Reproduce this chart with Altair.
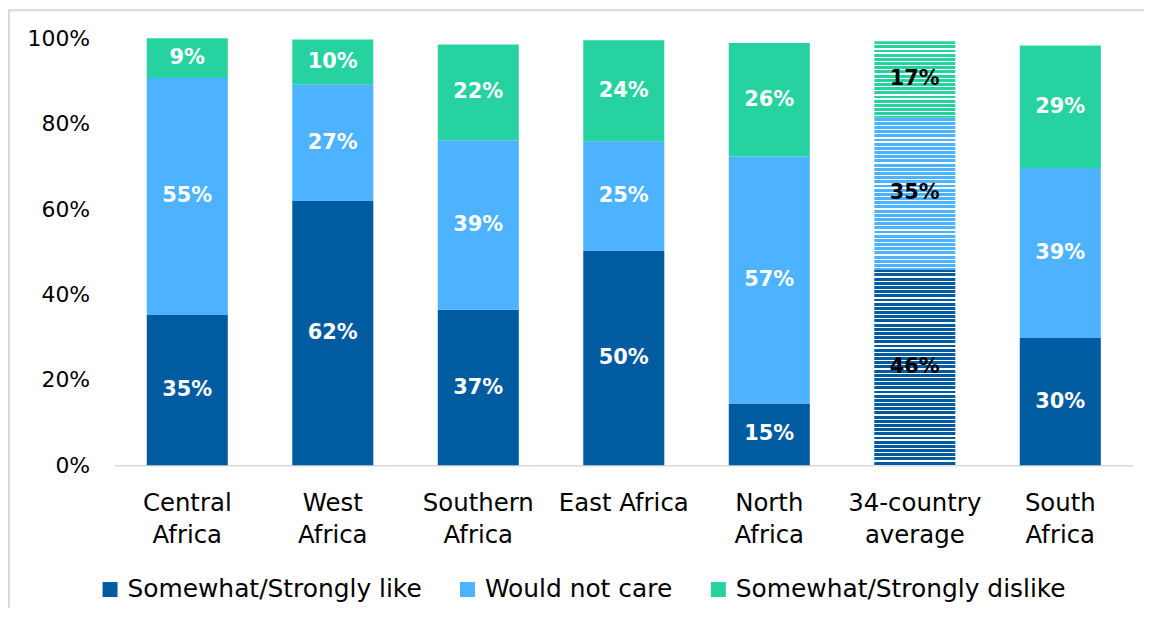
import altair as alt
import pandas as pd

categories = ["Central\nAfrica", "West\nAfrica", "Southern\nAfrica", "East Africa",
              "North\nAfrica", "34-country\naverage", "South\nAfrica"]
groups = ["Somewhat/Strongly like", "Would not care", "Somewhat/Strongly dislike"]
colors = ["#005BA1", "#4DB2FF", "#26D3A0"]

# bar heights (percent)
like_vals = [35.2, 61.9, 36.4, 50.3, 14.5, 45.9, 29.8]
care_vals = [55.5, 27.3, 39.7, 25.6, 57.8, 35.5, 39.8]
dislike_vals = [9.3, 10.5, 22.4, 23.6, 26.6, 17.9, 28.7]
# printed labels
like_labels = [35, 62, 37, 50, 15, 46, 30]
care_labels = [55, 27, 39, 25, 57, 35, 39]
dislike_labels = [9, 10, 22, 24, 26, 17, 29]

average_name = "34-country\naverage"

W, H = 1023, 429
PX_PER_PCT = H / 100.0
FONT = "DejaVu Sans"

rows = []
for i, c in enumerate(categories):
    start = 0.0
    for g, vals, labs in [(groups[0], like_vals, like_labels),
                          (groups[1], care_vals, care_labels),
                          (groups[2], dislike_vals, dislike_labels)]:
        v = vals[i]
        rows.append({"cat": c, "group": g, "start": start / 100, "end": (start + v) / 100,
                     "mid": (start + v / 2) / 100, "label": f"{labs[i]}%",
                     "avg": c == average_name,
                     "tcolor": "black" if c == average_name else "white"})
        start += v
df = pd.DataFrame(rows)

x_enc = alt.X("cat:N", sort=categories, title=None,
              scale=alt.Scale(paddingInner=0.443, paddingOuter=0.2215),
              axis=alt.Axis(labelExpr="split(datum.value, '\\n')", labelAngle=0,
                            labelFont=FONT, labelFontSize=24.5, labelColor="#000000",
                            labelLineHeight=33, labelPadding=26, ticks=False, labelLimit=0,
                            domainColor="#D9D9D9", domainWidth=1.5, labelBaseline="top"))
y_scale = alt.Scale(domain=[0, 1], nice=False)
y_enc = alt.Y("start:Q", scale=y_scale, title=None,
              axis=alt.Axis(format="%", values=[0, 0.2, 0.4, 0.6, 0.8, 1.0], grid=False,
                            domain=False, ticks=False, labelFont=FONT,
                            labelFontSize=22, labelColor="#000000", labelPadding=25))

base = alt.Chart(df)

bars = base.transform_filter("!datum.avg").mark_bar().encode(
    x=x_enc, y=y_enc, y2="end:Q",
    color=alt.Color("group:N", sort=groups,
                    scale=alt.Scale(domain=groups, range=colors),
                    legend=alt.Legend(title=None, orient="none", direction="horizontal",
                                      legendX=-17, legendY=541, symbolType="square",
                                      symbolSize=225, symbolStrokeWidth=0,
                                      labelFont=FONT, labelFontSize=25, labelLimit=0,
                                      labelColor="#000000", columnPadding=33,
                                      labelOffset=5, symbolOpacity=1)))


def stripes(color, height_px, period=4.2, solid=2.9):
    stops = []
    k = 0.0
    while k < height_px:
        a = k / height_px
        b = min((k + solid) / height_px, 1)
        c = min((k + period) / height_px, 1)
        stops += [alt.GradientStop(offset=a, color=color), alt.GradientStop(offset=b, color=color),
                  alt.GradientStop(offset=b, color="white"), alt.GradientStop(offset=c, color="white")]
        k += period
    return alt.LinearGradient(gradient="linear", x1=0, y1=0, x2=0, y2=1, stops=stops)


avg_idx = categories.index(average_name)
avg_layers = []
for g, col, vals in zip(groups, colors, [like_vals, care_vals, dislike_vals]):
    h = vals[avg_idx] * PX_PER_PCT
    avg_layers.append(
        base.transform_filter(f"datum.avg && datum.group == '{g}'")
        .mark_bar(color=stripes(col, h))
        .encode(x=x_enc, y=y_enc, y2="end:Q")
    )

labels = base.mark_text(font=FONT, fontSize=21, fontWeight="bold").encode(
    x=alt.X("cat:N", sort=categories),
    y=alt.Y("mid:Q", scale=y_scale),
    text="label:N",
    color=alt.Color("tcolor:N", scale=None),
)

frame_left = alt.Chart(pd.DataFrame({"a": [0]})).mark_rule(color="#D9D9D9", strokeWidth=2).encode(
    x=alt.value(-106), y=alt.value(-28), y2=alt.value(572))
frame_top = alt.Chart(pd.DataFrame({"a": [0]})).mark_rule(color="#D9D9D9", strokeWidth=2).encode(
    x=alt.value(-107), x2=alt.value(1034), y=alt.value(-28))

chart = alt.layer(bars, *avg_layers, labels, frame_left, frame_top).properties(
    width=W, height=H,
    padding={"left": 107, "top": 29, "right": 12, "bottom": 144},
    autosize=alt.AutoSizeParams(type="none"),
).configure(background="white").configure_view(strokeWidth=0, stroke="transparent")

chart.save("out.html", embed_options={"renderer": "svg", "actions": False})
